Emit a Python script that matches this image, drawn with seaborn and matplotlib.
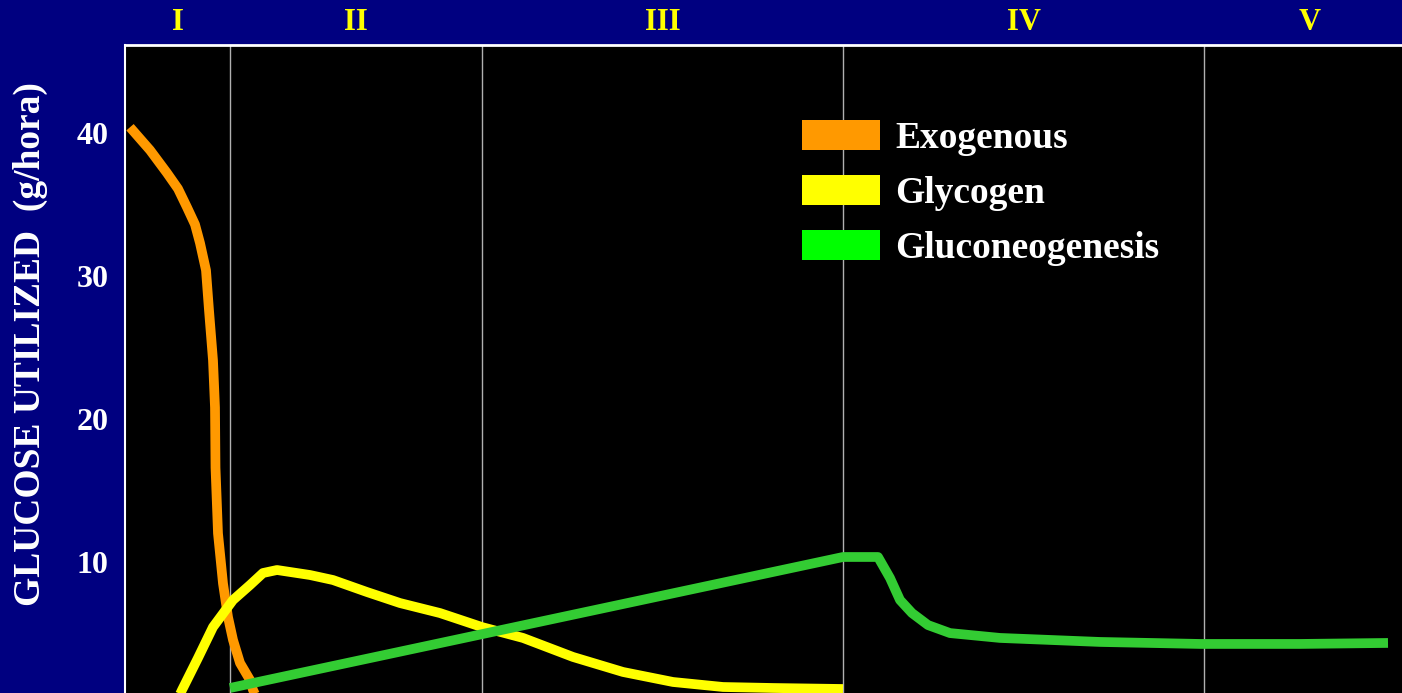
import numpy as np
import pandas as pd
import seaborn as sns
import matplotlib.pyplot as plt
from matplotlib.patches import Patch
from matplotlib import transforms

# curves (x in arbitrary time units)
exo_x = [0.05, 0.25, 0.42, 0.53, 0.62, 0.70, 0.75, 0.81, 0.84, 0.88, 0.90, 0.905, 0.93, 0.98, 1.03, 1.08, 1.15, 1.25, 1.28, 1.31]
exo_y = [40.4, 38.8, 37.2, 36.1, 34.8, 33.6, 32.3, 30.4, 27.6, 24.1, 20.8, 16.6, 12.0, 8.5, 6.15, 4.55, 2.94, 1.75, 1.05, 0.6]

gly_x = [0.50, 0.57, 0.73, 0.88, 1.08, 1.25, 1.38, 1.52, 1.85, 2.08, 2.42, 2.75, 3.15, 3.57,
         3.98, 4.48, 4.98, 5.48, 5.98, 6.48, 7.18]
gly_y = [0.0, 1.05, 3.29, 5.45, 7.34, 8.39, 9.23, 9.44, 9.09, 8.74, 7.90, 7.13, 6.43, 5.45,
         4.69, 3.36, 2.31, 1.61, 1.26, 1.19, 1.12]

neo_x = [1.05, 7.18, 7.53, 7.65, 7.75, 7.87, 8.03, 8.25, 8.75, 9.75, 10.75, 11.75, 12.63]
neo_y = [1.19, 10.35, 10.35, 8.88, 7.34, 6.43, 5.59, 5.03, 4.69, 4.41, 4.27, 4.27, 4.34]

phase_bounds = [0, 1.05, 3.57, 7.18, 10.79, 12.91]
phase_names = ["I", "II", "III", "IV", "V"]

series = ["Exogenous", "Glycogen", "Gluconeogenesis"]
line_colors = ["#FF9900", "#FFFF00", "#33CC33"]
legend_colors = ["#FF9900", "#FFFF00", "#00FF00"]

df = pd.concat([
    pd.DataFrame({"t": exo_x, "g": exo_y, "source": "Exogenous"}),
    pd.DataFrame({"t": gly_x, "g": gly_y, "source": "Glycogen"}),
    pd.DataFrame({"t": neo_x, "g": neo_y, "source": "Gluconeogenesis"}),
])

sns.set_style("dark")
plt.rcParams["font.family"] = ["Liberation Serif", "DejaVu Serif"]
plt.rcParams["font.weight"] = "bold"

fig = plt.figure(figsize=(14.02, 6.93), dpi=100)
fig.patch.set_facecolor("#000080")
ax = fig.add_axes([125 / 1402, 0, 1 - 125 / 1402, 1 - 45 / 693])
ax.set_facecolor("black")

# phase dividers
for b in phase_bounds[1:-1]:
    ax.axvline(b, color="#b0b0b0", lw=1, zorder=1)

for name, col in zip(series, line_colors):
    sub = df[df["source"] == name]
    sns.lineplot(data=sub, x="t", y="g", color=col, lw=7, sort=False,
                 estimator=None, ax=ax, zorder=3,
                 solid_capstyle="butt", solid_joinstyle="round")

ax.set_xlim(0, 12.77)
ax.set_ylim(0.84, 46.15)
ax.set_yticks([10, 20, 30, 40])
ax.set_xticks([])
ax.tick_params(axis="y", length=0, pad=12, colors="white", labelsize=23)
for lab in ax.get_yticklabels():
    lab.set_fontweight("bold")
ax.set_xlabel("")
ax.set_ylabel("GLUCOSE UTILIZED  (g/hora)", color="white", fontsize=27, fontweight="bold")
ax.yaxis.set_label_coords(48 / 1402, 1 - 344 / 693, transform=fig.transFigure)
ax.grid(False)

for side in ["right", "bottom"]:
    ax.spines[side].set_visible(False)
ax.spines["left"].set_color("white")
ax.spines["top"].set_color("white")
ax.spines["left"].set_linewidth(1.5)
ax.spines["top"].set_linewidth(2)

# roman phase labels
trans = transforms.blended_transform_factory(ax.transData, fig.transFigure)
for i, name in enumerate(phase_names):
    xc = (phase_bounds[i] + phase_bounds[i + 1]) / 2
    ax.text(xc, 1 - 23 / 693, name, transform=trans, ha="center", va="center",
            color="#FFFF00", fontsize=22, fontweight="bold")

handles = [Patch(facecolor=c, edgecolor="none", label=s) for s, c in zip(series, legend_colors)]
leg = ax.legend(handles=handles, loc="upper left", bbox_to_anchor=(802 / 1402, 1 - 120 / 693),
                bbox_transform=fig.transFigure, frameon=False, borderpad=0, borderaxespad=0,
                handlelength=2.08, handleheight=0.86, handletextpad=0.4, labelspacing=0.51,
                prop={"family": "Liberation Serif", "weight": "bold", "size": 27})
for t in leg.get_texts():
    t.set_color("white")

fig.savefig("out.png", dpi=100, facecolor=fig.get_facecolor())
